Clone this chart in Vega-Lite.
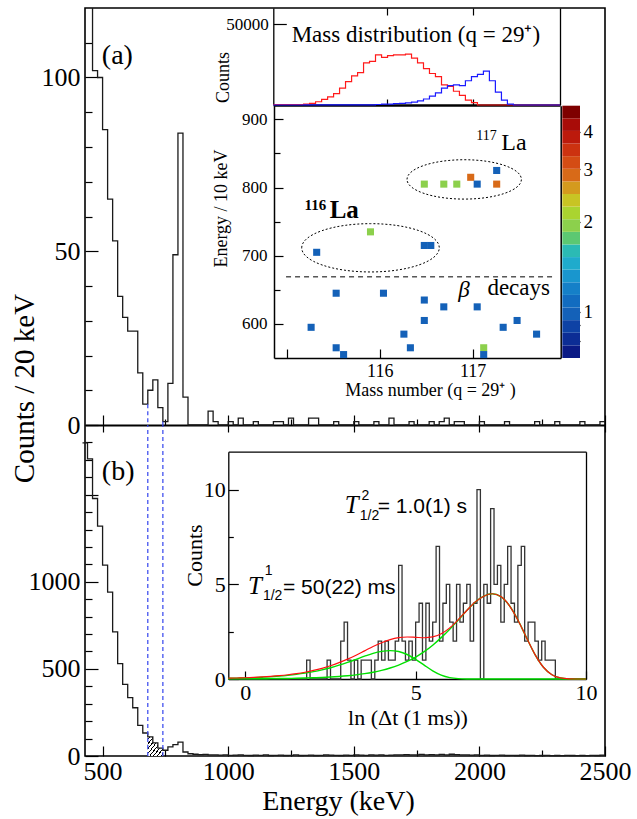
{
 "$schema": "https://vega.github.io/schema/vega-lite/v6.json",
 "width": 520, "height": 748,
 "autosize": {"type": "none"},
 "padding": {"left": 85, "top": 8, "right": 32, "bottom": 63},
 "background": "white",
 "config": {
  "view": {"stroke": "black", "strokeWidth": 1.6},
  "axis": {"grid": false, "domain": false, "labelFont": "Liberation Serif", "titleFont": "Liberation Serif", "titleFontWeight": "normal", "labelColor": "black", "titleColor": "black", "tickColor": "black", "domainColor": "black", "labelFlush": false, "labelOverlap": false, "tickWidth": 1.2, "domainWidth": 1.3, "format": "d"}
 },
 "resolve": {"scale": {"x": "independent", "y": "independent"}, "axis": {"x": "independent", "y": "independent"}},
 "datasets": {
  "histA": [{"e":420,"c":200},{"e":440,"c":200},{"e":460,"c":102},{"e":480,"c":100},{"e":500,"c":85},{"e":520,"c":65},{"e":540,"c":53},{"e":560,"c":37},{"e":580,"c":31},{"e":600,"c":27},{"e":620,"c":27},{"e":640,"c":15},{"e":660,"c":6},{"e":680,"c":10},{"e":700,"c":13},{"e":720,"c":5},{"e":740,"c":1},{"e":760,"c":12},{"e":780,"c":49},{"e":800,"c":84},{"e":820,"c":8},{"e":840,"c":0},{"e":860,"c":0},{"e":880,"c":0},{"e":900,"c":0},{"e":920,"c":4},{"e":940,"c":1},{"e":960,"c":0},{"e":980,"c":0},{"e":1000,"c":1},{"e":1020,"c":0},{"e":1040,"c":2},{"e":1060,"c":0},{"e":1080,"c":0},{"e":1100,"c":1},{"e":1120,"c":0},{"e":1140,"c":0},{"e":1160,"c":0},{"e":1180,"c":1},{"e":1200,"c":1},{"e":1220,"c":0},{"e":1240,"c":2},{"e":1260,"c":0},{"e":1280,"c":0},{"e":1300,"c":0},{"e":1320,"c":2},{"e":1340,"c":2},{"e":1360,"c":0},{"e":1380,"c":0},{"e":1400,"c":0},{"e":1420,"c":1},{"e":1440,"c":0},{"e":1460,"c":0},{"e":1480,"c":0},{"e":1500,"c":1},{"e":1520,"c":0},{"e":1540,"c":0},{"e":1560,"c":0},{"e":1580,"c":1},{"e":1600,"c":0},{"e":1620,"c":0},{"e":1640,"c":2},{"e":1660,"c":0},{"e":1680,"c":0},{"e":1700,"c":0},{"e":1720,"c":1},{"e":1740,"c":0},{"e":1760,"c":0},{"e":1780,"c":0},{"e":1800,"c":1},{"e":1820,"c":0},{"e":1840,"c":1},{"e":1860,"c":2},{"e":1880,"c":0},{"e":1900,"c":1},{"e":1920,"c":1},{"e":1940,"c":0},{"e":1960,"c":0},{"e":1980,"c":0},{"e":2000,"c":1},{"e":2020,"c":0},{"e":2040,"c":0},{"e":2060,"c":0},{"e":2080,"c":0},{"e":2100,"c":1},{"e":2120,"c":0},{"e":2140,"c":0},{"e":2160,"c":0},{"e":2180,"c":0},{"e":2200,"c":0},{"e":2220,"c":1},{"e":2240,"c":0},{"e":2260,"c":0},{"e":2280,"c":0},{"e":2300,"c":1},{"e":2320,"c":0},{"e":2340,"c":0},{"e":2360,"c":0},{"e":2380,"c":0},{"e":2400,"c":1},{"e":2420,"c":0},{"e":2440,"c":0},{"e":2460,"c":0},{"e":2480,"c":1},{"e":2500,"c":1}],
  "histB": [{"e":420,"c":1797},{"e":440,"c":1705},{"e":460,"c":1478},{"e":480,"c":1319},{"e":500,"c":1096},{"e":520,"c":941},{"e":540,"c":713},{"e":560,"c":530},{"e":580,"c":411},{"e":600,"c":335},{"e":620,"c":277},{"e":640,"c":176},{"e":660,"c":132},{"e":680,"c":110},{"e":700,"c":75},{"e":720,"c":45},{"e":740,"c":33},{"e":760,"c":52},{"e":780,"c":65},{"e":800,"c":80},{"e":820,"c":23},{"e":840,"c":13},{"e":860,"c":10},{"e":880,"c":8},{"e":900,"c":9},{"e":920,"c":6},{"e":940,"c":7},{"e":960,"c":5},{"e":980,"c":6},{"e":1000,"c":4},{"e":1020,"c":5},{"e":1040,"c":6},{"e":1060,"c":4},{"e":1080,"c":3},{"e":1100,"c":5},{"e":1120,"c":4},{"e":1140,"c":6},{"e":1160,"c":3},{"e":1180,"c":4},{"e":1200,"c":5},{"e":1220,"c":3},{"e":1240,"c":4},{"e":1260,"c":6},{"e":1280,"c":3},{"e":1300,"c":4},{"e":1320,"c":5},{"e":1340,"c":3},{"e":1360,"c":4},{"e":1380,"c":6},{"e":1400,"c":5},{"e":1420,"c":4},{"e":1440,"c":3},{"e":1460,"c":5},{"e":1480,"c":4},{"e":1500,"c":6},{"e":1520,"c":5},{"e":1540,"c":4},{"e":1560,"c":7},{"e":1580,"c":5},{"e":1600,"c":6},{"e":1620,"c":4},{"e":1640,"c":5},{"e":1660,"c":7},{"e":1680,"c":6},{"e":1700,"c":8},{"e":1720,"c":6},{"e":1740,"c":7},{"e":1760,"c":9},{"e":1780,"c":7},{"e":1800,"c":8},{"e":1820,"c":6},{"e":1840,"c":9},{"e":1860,"c":7},{"e":1880,"c":10},{"e":1900,"c":8},{"e":1920,"c":6},{"e":1940,"c":7},{"e":1960,"c":5},{"e":1980,"c":6},{"e":2000,"c":4},{"e":2020,"c":5},{"e":2040,"c":3},{"e":2060,"c":4},{"e":2080,"c":5},{"e":2100,"c":3},{"e":2120,"c":4},{"e":2140,"c":3},{"e":2160,"c":5},{"e":2180,"c":3},{"e":2200,"c":4},{"e":2220,"c":2},{"e":2240,"c":3},{"e":2260,"c":4},{"e":2280,"c":2},{"e":2300,"c":3},{"e":2320,"c":2},{"e":2340,"c":4},{"e":2360,"c":3},{"e":2380,"c":2},{"e":2400,"c":3},{"e":2420,"c":2},{"e":2440,"c":4},{"e":2460,"c":3},{"e":2480,"c":5},{"e":2500,"c":5}],
  "hatch": [{"e":680,"c":110},{"e":700,"c":75},{"e":720,"c":45},{"e":740,"c":45}],
  "mdRed": [{"m":114.69,"v":300},{"m":115.04,"v":500},{"m":115.109,"v":1000},{"m":115.178,"v":2000},{"m":115.248,"v":3500},{"m":115.317,"v":5000},{"m":115.386,"v":7000},{"m":115.455,"v":10500},{"m":115.524,"v":14500},{"m":115.594,"v":18000},{"m":115.663,"v":20000},{"m":115.732,"v":26000},{"m":115.801,"v":27000},{"m":115.87,"v":31000},{"m":115.94,"v":29500},{"m":116.009,"v":30500},{"m":116.078,"v":31000},{"m":116.147,"v":31000},{"m":116.216,"v":31500},{"m":116.286,"v":29000},{"m":116.355,"v":26000},{"m":116.424,"v":22500},{"m":116.493,"v":19500},{"m":116.562,"v":17500},{"m":116.632,"v":12500},{"m":116.701,"v":11500},{"m":116.77,"v":8500},{"m":116.839,"v":6000},{"m":116.908,"v":3000},{"m":116.978,"v":1500},{"m":117.047,"v":0},{"m":118.0,"v":0}],
  "mdBlue": [{"m":114.69,"v":0},{"m":115.04,"v":100},{"m":115.87,"v":300},{"m":115.94,"v":500},{"m":116.009,"v":600},{"m":116.078,"v":800},{"m":116.147,"v":1000},{"m":116.216,"v":1300},{"m":116.286,"v":1800},{"m":116.355,"v":2500},{"m":116.424,"v":3700},{"m":116.493,"v":5500},{"m":116.562,"v":7500},{"m":116.632,"v":10500},{"m":116.701,"v":12000},{"m":116.77,"v":12500},{"m":116.839,"v":12000},{"m":116.908,"v":15000},{"m":116.978,"v":17500},{"m":117.047,"v":19000},{"m":117.116,"v":21000},{"m":117.185,"v":15000},{"m":117.254,"v":8000},{"m":117.324,"v":3000},{"m":117.393,"v":500},{"m":117.462,"v":0},{"m":118.0,"v":0}],
  "scatter": [{"m":115.32,"E":705,"n":1},{"m":115.9,"E":735,"n":2},{"m":116.48,"E":715,"n":1},{"m":116.55,"E":715,"n":1},{"m":116.48,"E":805,"n":2},{"m":116.69,"E":805,"n":2},{"m":116.83,"E":805,"n":2},{"m":116.98,"E":815,"n":3},{"m":117.05,"E":805,"n":1},{"m":117.26,"E":825,"n":1},{"m":117.26,"E":805,"n":3},{"m":115.53,"E":645,"n":1},{"m":116.04,"E":645,"n":1},{"m":116.48,"E":635,"n":1},{"m":116.69,"E":625,"n":1},{"m":117.05,"E":625,"n":1},{"m":115.26,"E":595,"n":1},{"m":116.48,"E":605,"n":1},{"m":116.26,"E":585,"n":1},{"m":117.33,"E":595,"n":1},{"m":117.48,"E":605,"n":1},{"m":117.69,"E":585,"n":1},{"m":115.53,"E":565,"n":1},{"m":116.33,"E":565,"n":1},{"m":115.61,"E":555,"n":1},{"m":117.12,"E":565,"n":2},{"m":117.12,"E":555,"n":1}],
  "cbar": [{"lo":0.7,"hi":0.7715,"z":0.735},{"lo":0.7715,"hi":0.8503,"z":0.81},{"lo":0.8503,"hi":0.9371,"z":0.89},{"lo":0.9371,"hi":1.0328,"z":0.985},{"lo":1.0328,"hi":1.1382,"z":1.085},{"lo":1.1382,"hi":1.2544,"z":1.195},{"lo":1.2544,"hi":1.3825,"z":1.32},{"lo":1.3825,"hi":1.5236,"z":1.45},{"lo":1.5236,"hi":1.6792,"z":1.6},{"lo":1.6792,"hi":1.8507,"z":1.76},{"lo":1.8507,"hi":2.0397,"z":1.94},{"lo":2.0397,"hi":2.248,"z":2.14},{"lo":2.248,"hi":2.4775,"z":2.36},{"lo":2.4775,"hi":2.7305,"z":2.6},{"lo":2.7305,"hi":3.0093,"z":2.87},{"lo":3.0093,"hi":3.3166,"z":3.16},{"lo":3.3166,"hi":3.6553,"z":3.48},{"lo":3.6553,"hi":4.0285,"z":3.84},{"lo":4.0285,"hi":4.4399,"z":4.23},{"lo":4.4399,"hi":4.8932,"z":4.66}],
  "ibHist": [{"t":-0.5,"c":0},{"t":1.8,"c":1},{"t":1.9,"c":0},{"t":2.4,"c":1},{"t":2.5,"c":0},{"t":2.8,"c":2},{"t":2.9,"c":3},{"t":3.0,"c":1},{"t":3.1,"c":0},{"t":3.2,"c":1},{"t":3.3,"c":0},{"t":3.4,"c":1},{"t":3.5,"c":1},{"t":3.6,"c":1},{"t":3.7,"c":0},{"t":3.8,"c":1},{"t":3.9,"c":2},{"t":4.0,"c":1},{"t":4.1,"c":2},{"t":4.2,"c":1},{"t":4.3,"c":1},{"t":4.4,"c":2},{"t":4.5,"c":6},{"t":4.6,"c":2},{"t":4.7,"c":1},{"t":4.8,"c":2},{"t":4.9,"c":1},{"t":5.0,"c":3},{"t":5.1,"c":4},{"t":5.2,"c":1},{"t":5.3,"c":4},{"t":5.4,"c":2},{"t":5.5,"c":3},{"t":5.6,"c":7},{"t":5.7,"c":2},{"t":5.8,"c":4},{"t":5.9,"c":5},{"t":6.0,"c":3},{"t":6.1,"c":2},{"t":6.2,"c":5},{"t":6.3,"c":3},{"t":6.4,"c":4},{"t":6.5,"c":5},{"t":6.6,"c":2},{"t":6.7,"c":4},{"t":6.8,"c":10},{"t":6.9,"c":0},{"t":7.0,"c":5},{"t":7.1,"c":4},{"t":7.2,"c":9},{"t":7.3,"c":5},{"t":7.4,"c":6},{"t":7.5,"c":3},{"t":7.6,"c":5},{"t":7.7,"c":7},{"t":7.8,"c":4},{"t":7.9,"c":3},{"t":8.0,"c":6},{"t":8.1,"c":7},{"t":8.2,"c":2},{"t":8.3,"c":3},{"t":8.4,"c":3},{"t":8.5,"c":2},{"t":8.6,"c":1},{"t":8.7,"c":2},{"t":8.8,"c":1},{"t":8.9,"c":1},{"t":9.0,"c":1},{"t":9.1,"c":0},{"t":10,"c":0}],
  "curves": [{"t":-0.5,"c1":0.035,"c2":0.0053,"tot":0.0403},{"t":-0.25,"c1":0.0448,"c2":0.0068,"tot":0.0516},{"t":0,"c1":0.0573,"c2":0.0087,"tot":0.066},{"t":0.25,"c1":0.0733,"c2":0.0112,"tot":0.0845},{"t":0.5,"c1":0.0937,"c2":0.0143,"tot":0.108},{"t":0.75,"c1":0.1195,"c2":0.0184,"tot":0.138},{"t":1,"c1":0.1521,"c2":0.0236,"tot":0.176},{"t":1.25,"c1":0.1931,"c2":0.0302,"tot":0.223},{"t":1.5,"c1":0.2445,"c2":0.0388,"tot":0.283},{"t":1.75,"c1":0.3083,"c2":0.0498,"tot":0.358},{"t":2,"c1":0.3867,"c2":0.0639,"tot":0.451},{"t":2.25,"c1":0.482,"c2":0.0819,"tot":0.564},{"t":2.5,"c1":0.5954,"c2":0.1049,"tot":0.7},{"t":2.75,"c1":0.7283,"c2":0.1344,"tot":0.863},{"t":3,"c1":0.8757,"c2":0.172,"tot":1.048},{"t":3.25,"c1":1.0383,"c2":0.22,"tot":1.258},{"t":3.5,"c1":1.2047,"c2":0.281,"tot":1.486},{"t":3.75,"c1":1.3565,"c2":0.3584,"tot":1.715},{"t":4,"c1":1.4576,"c2":0.4563,"tot":1.914},{"t":4.25,"c1":1.5,"c2":0.5792,"tot":2.079},{"t":4.5,"c1":1.4498,"c2":0.7335,"tot":2.183},{"t":4.75,"c1":1.2929,"c2":0.9248,"tot":2.218},{"t":5,"c1":1.0394,"c2":1.1601,"tot":2.2},{"t":5.25,"c1":0.7316,"c2":1.4459,"tot":2.178},{"t":5.5,"c1":0.4338,"c2":1.7861,"tot":2.22},{"t":5.75,"c1":0.2067,"c2":2.1848,"tot":2.392},{"t":6,"c1":0.0743,"c2":2.6271,"tot":2.701},{"t":6.25,"c1":0.0186,"c2":3.1149,"tot":3.134},{"t":6.5,"c1":0.0029,"c2":3.614,"tot":3.617},{"t":6.75,"c1":0.0003,"c2":4.0694,"tot":4.07},{"t":7,"c1":0,"c2":4.3727,"tot":4.373},{"t":7.25,"c1":0,"c2":4.5,"tot":4.5},{"t":7.5,"c1":0,"c2":4.3493,"tot":4.349},{"t":7.75,"c1":0,"c2":3.8786,"tot":3.879},{"t":8,"c1":0,"c2":3.1181,"tot":3.118},{"t":8.25,"c1":0,"c2":2.1947,"tot":2.195},{"t":8.5,"c1":0,"c2":1.3014,"tot":1.301},{"t":8.75,"c1":0,"c2":0.6201,"tot":0.62},{"t":9,"c1":0,"c2":0.2228,"tot":0.223},{"t":9.25,"c1":0,"c2":0.0558,"tot":0.056},{"t":9.5,"c1":0,"c2":0.0088,"tot":0.009},{"t":9.75,"c1":0,"c2":0.0008,"tot":0.001},{"t":10,"c1":0,"c2":0,"tot":0}]
 },
 "layer": [
  {"data": {"name": "hatch"},
   "mark": {"type": "area", "interpolate": "step-after", "fill": {"gradient": "linear", "x1": 0, "y1": 0, "x2": 1, "y2": 1, "stops": [{"offset":0,"color":"white"},{"offset":0.045,"color":"white"},{"offset":0.045,"color":"black"},{"offset":0.08,"color":"black"},{"offset":0.08,"color":"white"},{"offset":0.17,"color":"white"},{"offset":0.17,"color":"black"},{"offset":0.205,"color":"black"},{"offset":0.205,"color":"white"},{"offset":0.295,"color":"white"},{"offset":0.295,"color":"black"},{"offset":0.33,"color":"black"},{"offset":0.33,"color":"white"},{"offset":0.42,"color":"white"},{"offset":0.42,"color":"black"},{"offset":0.455,"color":"black"},{"offset":0.455,"color":"white"},{"offset":0.545,"color":"white"},{"offset":0.545,"color":"black"},{"offset":0.58,"color":"black"},{"offset":0.58,"color":"white"},{"offset":0.67,"color":"white"},{"offset":0.67,"color":"black"},{"offset":0.705,"color":"black"},{"offset":0.705,"color":"white"},{"offset":0.795,"color":"white"},{"offset":0.795,"color":"black"},{"offset":0.83,"color":"black"},{"offset":0.83,"color":"white"},{"offset":0.92,"color":"white"},{"offset":0.92,"color":"black"},{"offset":0.955,"color":"black"},{"offset":0.955,"color":"white"},{"offset":1,"color":"white"}]}},
   "encoding": {
    "x": {"field": "e", "type": "quantitative", "scale": {"domain": [430, 2500], "range": [0, 520], "nice": false, "zero": false}, "axis": {"orient": "bottom", "values": [750, 1250, 1750, 2250], "tickSize": -6, "labels": false, "title": null}},
    "y": {"field": "c", "type": "quantitative", "scale": {"domain": [0, 1900], "range": [748, 417], "nice": false, "zero": false}, "axis": null}
   }},
  {"data": {"name": "histB"},
   "mark": {"type": "line", "interpolate": "step-after", "color": "#1a1a1a", "strokeWidth": 1.3},
   "encoding": {
    "x": {"field": "e", "type": "quantitative", "scale": {"domain": [430, 2500], "range": [0, 520], "nice": false, "zero": false}, "axis": {"orient": "bottom", "values": [500, 1000, 1500, 2000, 2500], "tickSize": -10, "labelFontSize": 26, "labelPadding": 12, "title": "Energy (keV)", "titleFontSize": 28, "titleX": 253, "titleY": 53, "titleBaseline": "alphabetic"}},
    "y": {"field": "c", "type": "quantitative", "scale": {"domain": [0, 1900], "range": [748, 417], "nice": false, "zero": false}, "axis": {"orient": "left", "values": [0, 500, 1000, 1500], "labelExpr": "datum.value == 1500 ? '' : format(datum.value, 'd')", "tickSize": -13, "labelFontSize": 26, "labelPadding": 18, "title": "Counts / 20 keV", "titleFontSize": 29, "titleX": -52, "titleY": 380, "titleBaseline": "alphabetic"}}
   }},
  {"data": {"name": "histA"},
   "mark": {"type": "line", "interpolate": "step-after", "color": "#1a1a1a", "strokeWidth": 1.3, "clip": true},
   "encoding": {
    "x": {"field": "e", "type": "quantitative", "scale": {"domain": [430, 2500], "range": [0, 520], "nice": false, "zero": false}, "axis": {"orient": "bottom", "offset": -331, "values": [500, 1000, 1500, 2000, 2500], "tickSize": -10, "labels": false, "domain": true, "domainWidth": 1.8, "title": null}},
    "y": {"field": "c", "type": "quantitative", "scale": {"domain": [0, 120], "range": [417, 0], "nice": false, "zero": false}, "axis": {"orient": "left", "values": [0, 50, 100], "tickSize": -13, "labelFontSize": 26, "labelPadding": 18, "title": null}}
   }},
  {"data": {"values": [{"e": 680, "c": 6}, {"e": 740, "c": 1}]},
   "mark": {"type": "rule", "color": "#3344ee", "strokeDash": [4, 3], "strokeWidth": 1.2},
   "encoding": {
    "x": {"field": "e", "type": "quantitative", "scale": {"domain": [430, 2500], "range": [0, 520], "nice": false, "zero": false}, "axis": {"orient": "bottom", "offset": -331, "values": [750, 1250, 1750, 2250], "tickSize": -6, "labels": false, "title": null}},
    "y": {"field": "c", "type": "quantitative", "scale": {"domain": [0, 120], "range": [417, 0], "nice": false, "zero": false}, "axis": {"orient": "left", "values": [10, 20, 30, 40, 60, 70, 80, 90, 110], "tickSize": -7, "labels": false, "title": null}},
    "y2": {"datum": 0}
   }},
  {"data": {"values": [{"e": 680}, {"e": 740}]},
   "mark": {"type": "rule", "color": "#3344ee", "strokeDash": [4, 3], "strokeWidth": 1.2},
   "encoding": {
    "x": {"field": "e", "type": "quantitative", "scale": {"domain": [430, 2500], "range": [0, 520], "nice": false, "zero": false}, "axis": {"orient": "top", "offset": -417, "values": [500, 1000, 1500, 2000, 2500], "tickSize": -7, "labels": false, "title": null}},
    "y": {"datum": 0, "type": "quantitative", "scale": {"domain": [0, 1900], "range": [748, 417], "nice": false, "zero": false}, "axis": {"orient": "left", "values": [100, 200, 300, 400, 600, 700, 800, 900, 1100, 1200, 1300, 1400, 1600, 1700, 1800], "tickSize": -7, "labels": false, "title": null}},
    "y2": {"datum": 1900}
   }},
  {"data": {"values": [{"e": 497, "c": 104, "s": "(a)"}]},
   "mark": {"type": "text", "align": "left", "baseline": "alphabetic", "font": "Liberation Serif", "fontSize": 28, "color": "black"},
   "encoding": {
    "x": {"field": "e", "type": "quantitative", "scale": {"domain": [430, 2500], "range": [0, 520], "nice": false, "zero": false}, "axis": null},
    "y": {"field": "c", "type": "quantitative", "scale": {"domain": [0, 120], "range": [417, 0], "nice": false, "zero": false}, "axis": null},
    "text": {"field": "s"}
   }},
  {"data": {"values": [{"e": 497, "c": 1584, "s": "(b)"}]},
   "mark": {"type": "text", "align": "left", "baseline": "alphabetic", "font": "Liberation Serif", "fontSize": 28, "color": "black"},
   "encoding": {
    "x": {"field": "e", "type": "quantitative", "scale": {"domain": [430, 2500], "range": [0, 520], "nice": false, "zero": false}, "axis": null},
    "y": {"field": "c", "type": "quantitative", "scale": {"domain": [0, 1900], "range": [748, 417], "nice": false, "zero": false}, "axis": null},
    "text": {"field": "s"}
   }},
  {"data": {"name": "mdRed"},
   "mark": {"type": "line", "interpolate": "step-after", "color": "#ff1a1a", "strokeWidth": 1.2},
   "encoding": {
    "x": {"field": "m", "type": "quantitative", "scale": {"domain": [114.69, 118.0], "range": [188.3, 475], "nice": false, "zero": false}, "axis": {"orient": "bottom", "offset": -651, "values": [116, 117], "tickSize": -6, "labels": false, "domain": true, "domainWidth": 2.6, "title": null}},
    "y": {"field": "v", "type": "quantitative", "scale": {"domain": [0, 60000], "range": [97, 0], "nice": false, "zero": false}, "axis": {"orient": "left", "offset": -188.3, "values": [50000], "tickSize": -13, "labelFontSize": 17, "labelPadding": 18, "domain": true, "title": "Counts", "titleFontSize": 18, "titleX": -45, "titleY": 69, "titleBaseline": "alphabetic"}}
   }},
  {"data": {"name": "mdBlue"},
   "mark": {"type": "line", "interpolate": "step-after", "color": "#1a1aff", "strokeWidth": 1.2},
   "encoding": {
    "x": {"field": "m", "type": "quantitative", "scale": {"domain": [114.69, 118.0], "range": [188.3, 475], "nice": false, "zero": false}, "axis": {"orient": "top", "values": [116, 117], "tickSize": -7, "labels": false, "title": null}},
    "y": {"field": "v", "type": "quantitative", "scale": {"domain": [0, 60000], "range": [97, 0], "nice": false, "zero": false}, "axis": {"orient": "right", "offset": -45, "ticks": false, "labels": false, "domain": true, "title": null}}
   }},
  {"data": {"values": [{"m": 114.902, "v": 39155, "s": "Mass distribution (q = 29⁺)"}]},
   "mark": {"type": "text", "align": "left", "baseline": "alphabetic", "font": "Liberation Serif", "fontSize": 23, "color": "black"},
   "encoding": {
    "x": {"field": "m", "type": "quantitative", "scale": {"domain": [114.69, 118.0], "range": [188.3, 475], "nice": false, "zero": false}, "axis": null},
    "y": {"field": "v", "type": "quantitative", "scale": {"domain": [0, 60000], "range": [97, 0], "nice": false, "zero": false}, "axis": null},
    "text": {"field": "s"}
   }},
  {"data": {"name": "cbar"},
   "mark": {"type": "rect"},
   "encoding": {
    "x": {"datum": 0, "type": "quantitative", "scale": {"domain": [0, 1], "range": [477.3, 495], "nice": false, "zero": false}, "axis": null},
    "x2": {"datum": 1},
    "y": {"field": "lo", "type": "quantitative", "scale": {"type": "log", "domain": [0.7, 4.8932], "range": [350, 97.7], "nice": false}, "axis": {"orient": "right", "offset": -25, "values": [0.8, 0.9, 1, 2, 3, 4], "labelExpr": "datum.value < 1 ? '' : format(datum.value, 'd')", "tickSize": -6, "labelFontSize": 19, "labelPadding": 9, "title": null}},
    "y2": {"field": "hi"},
    "color": {"field": "z", "type": "quantitative", "scale": {"type": "threshold", "domain": [0.7715, 0.8503, 0.9371, 1.0328, 1.1382, 1.2544, 1.3825, 1.5236, 1.6792, 1.8507, 2.0397, 2.248, 2.4775, 2.7305, 3.0093, 3.3166, 3.6553, 4.0285, 4.4399], "range": ["#0a1a85", "#0c2d95", "#0e42a5", "#1461b8", "#126cc0", "#1580c8", "#1996ce", "#1fabcc", "#2bbab4", "#5cc872", "#8cd04c", "#aad430", "#c8c424", "#d49a1e", "#d86a18", "#d44c14", "#cc3210", "#bc1a0c", "#a80c08", "#7e0000"]}, "legend": null}
   }},
  {"data": {"name": "scatter"},
   "mark": {"type": "square", "size": 50, "filled": true, "opacity": 1, "strokeWidth": 0},
   "encoding": {
    "x": {"field": "m", "type": "quantitative", "scale": {"domain": [114.86, 117.95], "range": [189, 475.7], "nice": false, "zero": false}, "axis": {"orient": "bottom", "offset": -398, "values": [115, 116, 117], "labelExpr": "datum.value == 115 ? '' : format(datum.value, 'd')", "tickSize": -9, "labelFontSize": 18, "labelPadding": 13, "domain": true, "domainWidth": 1.5, "title": "Mass number (q = 29⁺ )", "titleFontSize": 18, "titleX": 345, "titleY": 37, "titleBaseline": "alphabetic"}},
    "y": {"field": "E", "type": "quantitative", "scale": {"domain": [550, 920], "range": [350, 97.7], "nice": false, "zero": false}, "axis": {"orient": "left", "offset": -189, "values": [600, 700, 800, 900], "tickSize": -9, "labelFontSize": 17, "labelPadding": 16, "domain": true, "domainWidth": 1.5, "title": "Energy / 10 keV", "titleFontSize": 18, "titleX": -48, "titleY": 200, "titleBaseline": "alphabetic"}},
    "color": {"field": "n", "type": "quantitative", "scale": {"type": "threshold", "domain": [0.7715, 0.8503, 0.9371, 1.0328, 1.1382, 1.2544, 1.3825, 1.5236, 1.6792, 1.8507, 2.0397, 2.248, 2.4775, 2.7305, 3.0093, 3.3166, 3.6553, 4.0285, 4.4399], "range": ["#0a1a85", "#0c2d95", "#0e42a5", "#1461b8", "#126cc0", "#1580c8", "#1996ce", "#1fabcc", "#2bbab4", "#5cc872", "#8cd04c", "#aad430", "#c8c424", "#d49a1e", "#d86a18", "#d44c14", "#cc3210", "#bc1a0c", "#a80c08", "#7e0000"]}, "legend": null}
   }},
  {"data": {"values": [{"m": 116.91, "E": 811.9}]},
   "mark": {"type": "point", "shape": "M-1,0A1,0.344,0,1,1,1,0A1,0.344,0,1,1,-1,0Z", "size": 13087, "filled": false, "color": "black", "strokeWidth": 1, "strokeDash": [2, 2], "opacity": 1},
   "encoding": {
    "x": {"field": "m", "type": "quantitative", "scale": {"domain": [114.86, 117.95], "range": [189, 475.7], "nice": false, "zero": false}, "axis": null},
    "y": {"field": "E", "type": "quantitative", "scale": {"domain": [550, 920], "range": [350, 97.7], "nice": false, "zero": false}, "axis": {"orient": "left", "offset": -189, "values": [650, 750, 850], "tickSize": -6, "labels": false, "title": null}}
   }},
  {"data": {"values": [{"m": 115.9, "E": 711.6}]},
   "mark": {"type": "point", "shape": "M-1,0A1,0.351,0,1,1,1,0A1,0.351,0,1,1,-1,0Z", "size": 18934, "filled": false, "color": "black", "strokeWidth": 1, "strokeDash": [2, 2], "opacity": 1},
   "encoding": {
    "x": {"field": "m", "type": "quantitative", "scale": {"domain": [114.86, 117.95], "range": [189, 475.7], "nice": false, "zero": false}, "axis": null},
    "y": {"field": "E", "type": "quantitative", "scale": {"domain": [550, 920], "range": [350, 97.7], "nice": false, "zero": false}, "axis": null}
   }},
  {"data": {"values": [{"m0": 114.99, "m1": 117.87, "E": 669}]},
   "mark": {"type": "rule", "color": "black", "strokeDash": [5, 4], "strokeWidth": 1},
   "encoding": {
    "x": {"field": "m0", "type": "quantitative", "scale": {"domain": [114.86, 117.95], "range": [189, 475.7], "nice": false, "zero": false}, "axis": null},
    "x2": {"field": "m1"},
    "y": {"field": "E", "type": "quantitative", "scale": {"domain": [550, 920], "range": [350, 97.7], "nice": false, "zero": false}, "axis": {"orient": "right", "offset": -44.3, "ticks": false, "labels": false, "domain": true, "domainWidth": 1.5, "title": null}}
   }},
  {"data": {"values": [{"m": 117.04, "E": 869.8, "s": "117"}]},
   "mark": {"type": "text", "align": "left", "baseline": "alphabetic", "font": "Liberation Serif", "fontSize": 14, "color": "black"},
   "encoding": {
    "x": {"field": "m", "type": "quantitative", "scale": {"domain": [114.86, 117.95], "range": [189, 475.7], "nice": false, "zero": false}, "axis": null},
    "y": {"field": "E", "type": "quantitative", "scale": {"domain": [550, 920], "range": [350, 97.7], "nice": false, "zero": false}, "axis": null},
    "text": {"field": "s"}
   }},
  {"data": {"values": [{"m": 117.31, "E": 855.2, "s": "La"}]},
   "mark": {"type": "text", "align": "left", "baseline": "alphabetic", "font": "Liberation Serif", "fontSize": 24, "color": "black"},
   "encoding": {
    "x": {"field": "m", "type": "quantitative", "scale": {"domain": [114.86, 117.95], "range": [189, 475.7], "nice": false, "zero": false}, "axis": null},
    "y": {"field": "E", "type": "quantitative", "scale": {"domain": [550, 920], "range": [350, 97.7], "nice": false, "zero": false}, "axis": null},
    "text": {"field": "s"}
   }},
  {"data": {"values": [{"m": 115.19, "E": 767.7, "s": "116"}]},
   "mark": {"type": "text", "align": "left", "baseline": "alphabetic", "font": "Liberation Serif", "fontSize": 15, "fontWeight": "bold", "color": "black"},
   "encoding": {
    "x": {"field": "m", "type": "quantitative", "scale": {"domain": [114.86, 117.95], "range": [189, 475.7], "nice": false, "zero": false}, "axis": null},
    "y": {"field": "E", "type": "quantitative", "scale": {"domain": [550, 920], "range": [350, 97.7], "nice": false, "zero": false}, "axis": null},
    "text": {"field": "s"}
   }},
  {"data": {"values": [{"m": 115.46, "E": 754.6, "s": "La"}]},
   "mark": {"type": "text", "align": "left", "baseline": "alphabetic", "font": "Liberation Serif", "fontSize": 25, "fontWeight": "bold", "color": "black"},
   "encoding": {
    "x": {"field": "m", "type": "quantitative", "scale": {"domain": [114.86, 117.95], "range": [189, 475.7], "nice": false, "zero": false}, "axis": null},
    "y": {"field": "E", "type": "quantitative", "scale": {"domain": [550, 920], "range": [350, 97.7], "nice": false, "zero": false}, "axis": null},
    "text": {"field": "s"}
   }},
  {"data": {"values": [{"m": 116.845, "E": 639.4, "s": "β"}]},
   "mark": {"type": "text", "align": "left", "baseline": "alphabetic", "font": "Liberation Serif", "fontSize": 23, "fontStyle": "italic", "color": "black"},
   "encoding": {
    "x": {"field": "m", "type": "quantitative", "scale": {"domain": [114.86, 117.95], "range": [189, 475.7], "nice": false, "zero": false}, "axis": null},
    "y": {"field": "E", "type": "quantitative", "scale": {"domain": [550, 920], "range": [350, 97.7], "nice": false, "zero": false}, "axis": null},
    "text": {"field": "s"}
   }},
  {"data": {"values": [{"m": 117.16, "E": 642.3, "s": "decays"}]},
   "mark": {"type": "text", "align": "left", "baseline": "alphabetic", "font": "Liberation Serif", "fontSize": 23, "color": "black"},
   "encoding": {
    "x": {"field": "m", "type": "quantitative", "scale": {"domain": [114.86, 117.95], "range": [189, 475.7], "nice": false, "zero": false}, "axis": null},
    "y": {"field": "E", "type": "quantitative", "scale": {"domain": [550, 920], "range": [350, 97.7], "nice": false, "zero": false}, "axis": null},
    "text": {"field": "s"}
   }},
  {"data": {"name": "ibHist"},
   "mark": {"type": "line", "interpolate": "step-after", "color": "#333333", "strokeWidth": 1.3},
   "encoding": {
    "x": {"field": "t", "type": "quantitative", "scale": {"domain": [-0.5, 10], "range": [143.3, 501], "nice": false, "zero": false}, "axis": {"orient": "bottom", "offset": -77, "values": [0, 5, 10], "tickSize": -8, "labelFontSize": 22, "labelPadding": 11, "domain": true, "title": "ln (Δt (1 ms))", "titleFontSize": 22, "titleX": 322.5, "titleY": 45, "titleBaseline": "alphabetic"}},
    "y": {"field": "c", "type": "quantitative", "scale": {"domain": [0, 12], "range": [671, 443.7], "nice": false, "zero": false}, "axis": {"orient": "left", "offset": -143.3, "values": [0, 5, 10], "tickSize": -10, "labelFontSize": 22, "labelPadding": 13, "domain": true, "title": "Counts", "titleFontSize": 22, "titleX": -27, "titleY": 547, "titleBaseline": "alphabetic"}}
   }},
  {"data": {"name": "curves"},
   "mark": {"type": "line", "interpolate": "monotone", "color": "#00e000", "strokeWidth": 1.4},
   "encoding": {
    "x": {"field": "t", "type": "quantitative", "scale": {"domain": [-0.5, 10], "range": [143.3, 501], "nice": false, "zero": false}, "axis": {"orient": "top", "offset": -443.7, "ticks": false, "labels": false, "domain": true, "title": null}},
    "y": {"field": "c1", "type": "quantitative", "scale": {"domain": [0, 12], "range": [671, 443.7], "nice": false, "zero": false}, "axis": {"orient": "right", "offset": -19, "ticks": false, "labels": false, "domain": true, "title": null}}
   }},
  {"data": {"name": "curves"},
   "mark": {"type": "line", "interpolate": "monotone", "color": "#00e000", "strokeWidth": 1.4},
   "encoding": {
    "x": {"field": "t", "type": "quantitative", "scale": {"domain": [-0.5, 10], "range": [143.3, 501], "nice": false, "zero": false}, "axis": null},
    "y": {"field": "c2", "type": "quantitative", "scale": {"domain": [0, 12], "range": [671, 443.7], "nice": false, "zero": false}, "axis": {"orient": "left", "offset": -143.3, "values": [2.5, 7.5], "tickSize": -5, "labels": false, "title": null}}
   }},
  {"data": {"name": "curves"},
   "mark": {"type": "line", "interpolate": "monotone", "color": "#ff1010", "strokeWidth": 1.2},
   "encoding": {
    "x": {"field": "t", "type": "quantitative", "scale": {"domain": [-0.5, 10], "range": [143.3, 501], "nice": false, "zero": false}, "axis": null},
    "y": {"field": "tot", "type": "quantitative", "scale": {"domain": [0, 12], "range": [671, 443.7], "nice": false, "zero": false}, "axis": null}
   }},
  {"data": {"values": [{"t": 2.92, "c": 8.78, "s": "T"}, {"t": 0.076, "c": 4.5, "s": "T"}]},
   "mark": {"type": "text", "align": "left", "baseline": "alphabetic", "font": "Liberation Serif", "fontSize": 25, "fontStyle": "italic", "color": "black"},
   "encoding": {
    "x": {"field": "t", "type": "quantitative", "scale": {"domain": [-0.5, 10], "range": [143.3, 501], "nice": false, "zero": false}, "axis": null},
    "y": {"field": "c", "type": "quantitative", "scale": {"domain": [0, 12], "range": [671, 443.7], "nice": false, "zero": false}, "axis": null},
    "text": {"field": "s"}
   }},
  {"data": {"values": [{"t": 3.41, "c": 9.47, "s": "2"}, {"t": 3.36, "c": 8.41, "s": "1/2"}, {"t": 0.567, "c": 5.51, "s": "1"}, {"t": 0.517, "c": 4.19, "s": "1/2"}]},
   "mark": {"type": "text", "align": "left", "baseline": "alphabetic", "font": "Liberation Sans", "fontSize": 14, "color": "black"},
   "encoding": {
    "x": {"field": "t", "type": "quantitative", "scale": {"domain": [-0.5, 10], "range": [143.3, 501], "nice": false, "zero": false}, "axis": null},
    "y": {"field": "c", "type": "quantitative", "scale": {"domain": [0, 12], "range": [671, 443.7], "nice": false, "zero": false}, "axis": null},
    "text": {"field": "s"}
   }},
  {"data": {"values": [{"t": 3.885, "c": 8.78, "s": "= 1.0(1) s"}, {"t": 1.104, "c": 4.5, "s": "= 50(22) ms"}]},
   "mark": {"type": "text", "align": "left", "baseline": "alphabetic", "font": "Liberation Sans", "fontSize": 21, "color": "black"},
   "encoding": {
    "x": {"field": "t", "type": "quantitative", "scale": {"domain": [-0.5, 10], "range": [143.3, 501], "nice": false, "zero": false}, "axis": null},
    "y": {"field": "c", "type": "quantitative", "scale": {"domain": [0, 12], "range": [671, 443.7], "nice": false, "zero": false}, "axis": null},
    "text": {"field": "s"}
   }}
 ]
}
